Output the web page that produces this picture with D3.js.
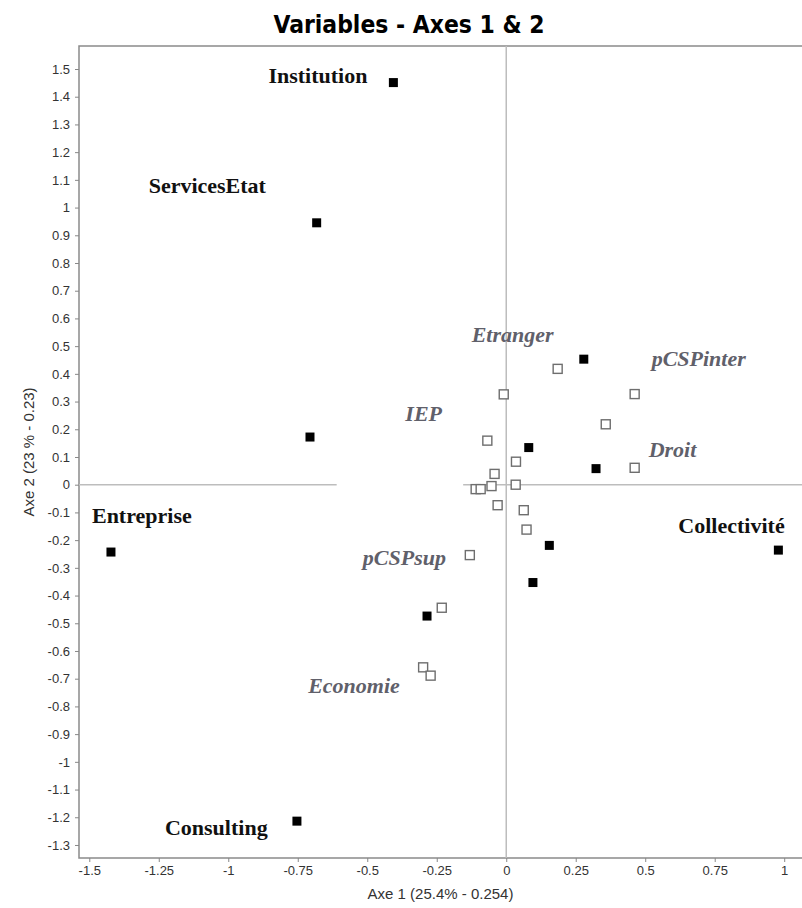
<!DOCTYPE html>
<html>
<head>
<meta charset="utf-8">
<script src="https://cdn.jsdelivr.net/npm/d3@7"></script>
<style>
  body { margin: 0; background: #fff; }
  .tick text { font-family: "Liberation Sans", Arial, sans-serif; font-size: 13px; fill: #333; }
  .tick line { stroke: #888; }
  .domain { display: none; }
</style>
</head>
<body>
<svg id="chart" width="802" height="908"></svg>
<script>
// modalities (filled squares)
var modNames = ["Institution", "ServicesEtat", "", "Entreprise", "Consulting", "Collectivité", "", "", "", "", "", ""];
var modX = [-0.406, -0.682, -0.706, -1.422, -0.753, 0.979, 0.279, 0.081, 0.323, 0.155, 0.096, -0.285];
var modY = [1.451, 0.945, 0.172, -0.243, -1.214, -0.236, 0.453, 0.134, 0.058, -0.219, -0.353, -0.474];

// variables (hollow squares)
var varNames = ["Etranger", "", "", "pCSPinter", "IEP", "", "Droit", "", "", "", "", "", "", "", "", "pCSPsup", "", "Economie", ""];
var varX = [0.185, -0.009, 0.358, 0.462, -0.068, 0.035, 0.462, -0.042, -0.053, 0.034, -0.110, -0.092, -0.031, 0.063, 0.073, -0.131, -0.232, -0.299, -0.272];
var varY = [0.418, 0.326, 0.218, 0.327, 0.159, 0.083, 0.061, 0.039, -0.005, 0.000, -0.016, -0.016, -0.074, -0.092, -0.162, -0.254, -0.444, -0.659, -0.689];

var xTicks = [-1.5, -1.25, -1, -0.75, -0.5, -0.25, 0, 0.25, 0.5, 0.75, 1];
var yTicks = [1.5, 1.4, 1.3, 1.2, 1.1, 1, 0.9, 0.8, 0.7, 0.6, 0.5, 0.4, 0.3, 0.2, 0.1, 0,
              -0.1, -0.2, -0.3, -0.4, -0.5, -0.6, -0.7, -0.8, -0.9, -1, -1.1, -1.2, -1.3];

// label placement (pixels from the point)
var labelOffsets = {
  "Institution": [-125, 0], "ServicesEtat": [-168, -30], "Entreprise": [-19, -29],
  "Consulting": [-132, 14], "Collectivité": [-100, -17],
  "Etranger": [-86, -27], "pCSPinter": [17, -28], "IEP": [-82, -20],
  "Droit": [14, -11], "pCSPsup": [-107, 10], "Economie": [-115, 26]
};

var svg = d3.select("#chart");
var plotL = 79, plotR = 802, plotT = 46, plotB = 858;

var x = d3.scaleLinear().domain([-1.537, 1.064]).range([plotL, plotR]);
var y = d3.scaleLinear().domain([-1.347, 1.583]).range([plotB, plotT]);

// title
svg.append("text")
  .attr("x", 409).attr("y", 33)
  .attr("text-anchor", "middle")
  .style("font-family", "'DejaVu Sans Condensed', 'Liberation Sans Narrow', sans-serif")
  .style("font-weight", "bold")
  .style("font-size", "25px")
  .attr("textLength", 271)
  .attr("lengthAdjust", "spacingAndGlyphs")
  .text("Variables - Axes 1 & 2");

// frame
svg.append("rect")
  .attr("x", plotL).attr("y", plotT)
  .attr("width", plotR - plotL + 5).attr("height", plotB - plotT)
  .attr("fill", "none").attr("stroke", "#8a8a8a").attr("stroke-width", 1.5);

// zero lines
svg.append("line")
  .attr("x1", x(0)).attr("x2", x(0)).attr("y1", plotT).attr("y2", plotB)
  .attr("stroke", "#bdbdbd").attr("stroke-width", 1.5);
[[-1.537, -0.61], [-0.155, 1.064]].forEach(function(seg) {
  svg.append("line")
    .attr("x1", x(seg[0])).attr("x2", x(seg[1])).attr("y1", y(0)).attr("y2", y(0))
    .attr("stroke", "#bdbdbd").attr("stroke-width", 1.5);
});

// axes
svg.append("g")
  .attr("transform", "translate(0," + plotB + ")")
  .call(d3.axisBottom(x).tickValues(xTicks).tickSize(4).tickPadding(4)
    .tickFormat(function(d) { return String(d); }));

svg.append("g")
  .attr("transform", "translate(" + plotL + ",0)")
  .call(d3.axisLeft(y).tickValues(yTicks).tickSize(4).tickPadding(5)
    .tickFormat(function(d) { return String(d); }));

svg.append("text")
  .attr("x", (plotL + plotR) / 2).attr("y", 899)
  .attr("text-anchor", "middle")
  .style("font-family", "'Liberation Sans', Arial, sans-serif")
  .style("font-size", "15px").attr("fill", "#333")
  .text("Axe 1 (25.4% - 0.254)");

svg.append("text")
  .attr("transform", "translate(34," + (plotT + plotB) / 2 + ") rotate(-90)")
  .attr("text-anchor", "middle")
  .style("font-family", "'Liberation Sans', Arial, sans-serif")
  .style("font-size", "15px").attr("fill", "#333")
  .text("Axe 2 (23 % - 0.23)");

// hollow squares
var vs = 9;
svg.append("g").selectAll("rect")
  .data(varX)
  .enter()
  .append("rect")
  .attr("x", function(d) { return x(d) - vs / 2; })
  .attr("y", function(d, i) { return y(varY[i]) - vs / 2; })
  .attr("width", vs).attr("height", vs)
  .attr("fill", "#fff").attr("stroke", "#6e6e6e").attr("stroke-width", 1.4);

// filled squares
var ms = 9;
svg.append("g").selectAll("rect")
  .data(modX)
  .enter()
  .append("rect")
  .attr("x", function(d) { return x(d) - ms / 2; })
  .attr("y", function(d, i) { return y(modY[i]) - ms / 2; })
  .attr("width", ms).attr("height", ms)
  .attr("fill", "#000");

// labels
function addLabels(names, xs, ys, color, italic) {
  svg.append("g").selectAll("text")
    .data(names.filter(function(n) { return n !== ""; }))
    .enter()
    .append("text")
    .attr("x", function(n) { return x(xs[names.indexOf(n)]) + labelOffsets[n][0]; })
    .attr("y", function(n) { return y(ys[names.indexOf(n)]) + labelOffsets[n][1]; })
    .style("font-family", "'Liberation Serif', 'Times New Roman', serif")
    .style("font-weight", "bold")
    .style("font-style", italic ? "italic" : "normal")
    .style("font-size", "22px")
    .attr("fill", color)
    .text(function(n) { return n; });
}
addLabels(modNames, modX, modY, "#111", false);
addLabels(varNames, varX, varY, "#60606a", true);
</script>
</body>
</html>
